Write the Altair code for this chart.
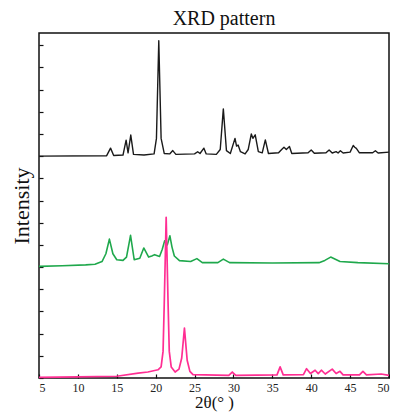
import altair as alt
import pandas as pd

black_x = [5, 13.7, 14.2, 14.6, 15.8, 16.2, 16.45, 16.8, 17.15, 18.5, 19.8, 20.1, 20.4, 20.7, 21.1, 21.8, 22.2, 22.6,
           25.0, 25.4, 25.7, 26.2, 26.5, 27.8, 28.3, 28.7, 29.1, 29.6, 30.2, 30.4, 30.6, 30.9, 31.5, 31.9, 32.3, 32.5,
           32.8, 33.2, 33.7, 34.1, 34.5, 35.8, 36.2, 36.5, 36.8, 37.2, 37.5, 39.6, 40.0, 40.4, 41.9, 42.3, 42.7, 43.2,
           43.45, 43.75, 44.1, 45.0, 45.4, 45.6, 45.8, 46.2, 47.9, 48.25, 48.6, 50]
black_y = [10.0, 10.02, 10.36, 10.03, 10.05, 10.72, 10.15, 10.95, 10.08, 10.05, 10.1, 10.8, 15.2, 10.8, 10.12, 10.1,
           10.25, 10.08, 10.1, 10.2, 10.12, 10.36, 10.1, 10.08, 10.3, 12.13, 10.25, 10.12, 10.8, 10.45, 10.5, 10.2,
           10.1, 10.3, 11.0, 10.8, 10.96, 10.2, 10.15, 10.73, 10.12, 10.15, 10.3, 10.4, 10.3, 10.43, 10.12, 10.15,
           10.28, 10.13, 10.15, 10.28, 10.14, 10.2, 10.14, 10.24, 10.14, 10.18, 10.48, 10.4, 10.35, 10.15, 10.15,
           10.24, 10.14, 10.18]

green_x = [5, 8, 11, 12.2, 13.1, 13.6, 14.05, 14.5, 15.0, 15.8, 16.25, 16.77, 17.24, 17.96, 18.47, 19.1, 19.5, 19.87,
           20.5, 20.85, 21.15, 21.5, 21.83, 22.1, 22.4, 23.06, 24.5, 25.3, 26.0, 28.0, 28.7, 29.5, 35, 41.0, 41.75,
           42.5, 43.7, 46, 50]
green_y = [5.03, 5.06, 5.1, 5.13, 5.25, 5.6, 6.26, 5.6, 5.33, 5.3, 5.45, 6.43, 5.33, 5.4, 5.86, 5.45, 5.5, 5.56,
           5.48, 5.8, 6.18, 6.0, 6.41, 5.9, 5.5, 5.29, 5.25, 5.38, 5.2, 5.2, 5.36, 5.2, 5.18, 5.2, 5.3, 5.45, 5.25,
           5.2, 5.15]

pink_x = [5, 10, 15, 17.75, 19.0, 20.3, 20.7, 20.95, 21.1, 21.35, 21.6, 21.75, 22.0, 22.5, 23.0, 23.35, 23.7, 24.05,
          24.4, 24.8, 29.4, 29.85, 30.3, 35.6, 36.0, 36.4, 39.0, 39.4, 39.9, 40.5, 40.9, 41.3, 41.8, 42.7, 43.2, 43.7,
          44.1, 46.2, 46.65, 47.1, 49.0, 50]
pink_y = [0.03, 0.05, 0.08, 0.22, 0.27, 0.37, 0.5, 1.2, 3.3, 7.24, 3.3, 1.2, 0.5, 0.27, 0.4, 0.9, 2.25, 0.8, 0.3,
          0.15, 0.12, 0.27, 0.12, 0.14, 0.5, 0.14, 0.15, 0.42, 0.2, 0.35, 0.2, 0.35, 0.18, 0.4, 0.2, 0.3, 0.14, 0.14,
          0.3, 0.14, 0.18, 0.12]

x_ticks = [5, 10, 15, 20, 25, 30, 35, 40, 45, 50]
y_ticks = list(range(0, 16))

FONT = "Liberation Serif"

x_scale = alt.Scale(domain=[5, 50], nice=False, zero=False)
y_scale = alt.Scale(domain=[0, 15.55], nice=False, zero=False)

x_axis = alt.Axis(values=x_ticks, title="2θ(°  )", offset=-4, tickSize=4, domain=False, grid=False,
                  labelFont=FONT, labelFontSize=12, labelColor="#222", labelPadding=4,
                  titleFont=FONT, titleFontSize=17, titleFontWeight="normal", titleColor="#111",
                  titlePadding=1, tickColor="#111", tickWidth=1.2)
y_axis = alt.Axis(values=y_ticks, title="Intensity", offset=-4, tickSize=4, domain=False, grid=False,
                  labels=False, titleFont=FONT, titleFontSize=22, titleFontWeight="normal",
                  titleColor="#111", titlePadding=5, tickColor="#111", tickWidth=1.2)


def layer(xs, ys, color, width):
    df = pd.DataFrame({"x": xs, "y": ys})
    return alt.Chart(df).mark_line(color=color, strokeWidth=width, strokeJoin="round").encode(
        x=alt.X("x:Q", scale=x_scale, axis=x_axis),
        y=alt.Y("y:Q", scale=y_scale, axis=y_axis),
        order=alt.Order("x:Q"))


chart = alt.layer(
    layer(black_x, black_y, "#1a1a1a", 1.4),
    layer(green_x, green_y, "#1fa84c", 1.6),
    layer(pink_x, pink_y, "#ff2e93", 1.7),
).properties(
    width=350, height=345,
    title=alt.TitleParams("XRD pattern", font=FONT, fontSize=20, fontWeight="normal", color="#111",
                          anchor="middle", dx=10, offset=4),
    autosize=alt.AutoSizeParams(type="none"),
    padding={"left": 31, "top": 25, "right": 1, "bottom": 34},
).configure(background="white").configure_view(stroke="#111", strokeWidth=1.5)

chart.save("out.html", embed_options={"renderer": "svg", "actions": False})
